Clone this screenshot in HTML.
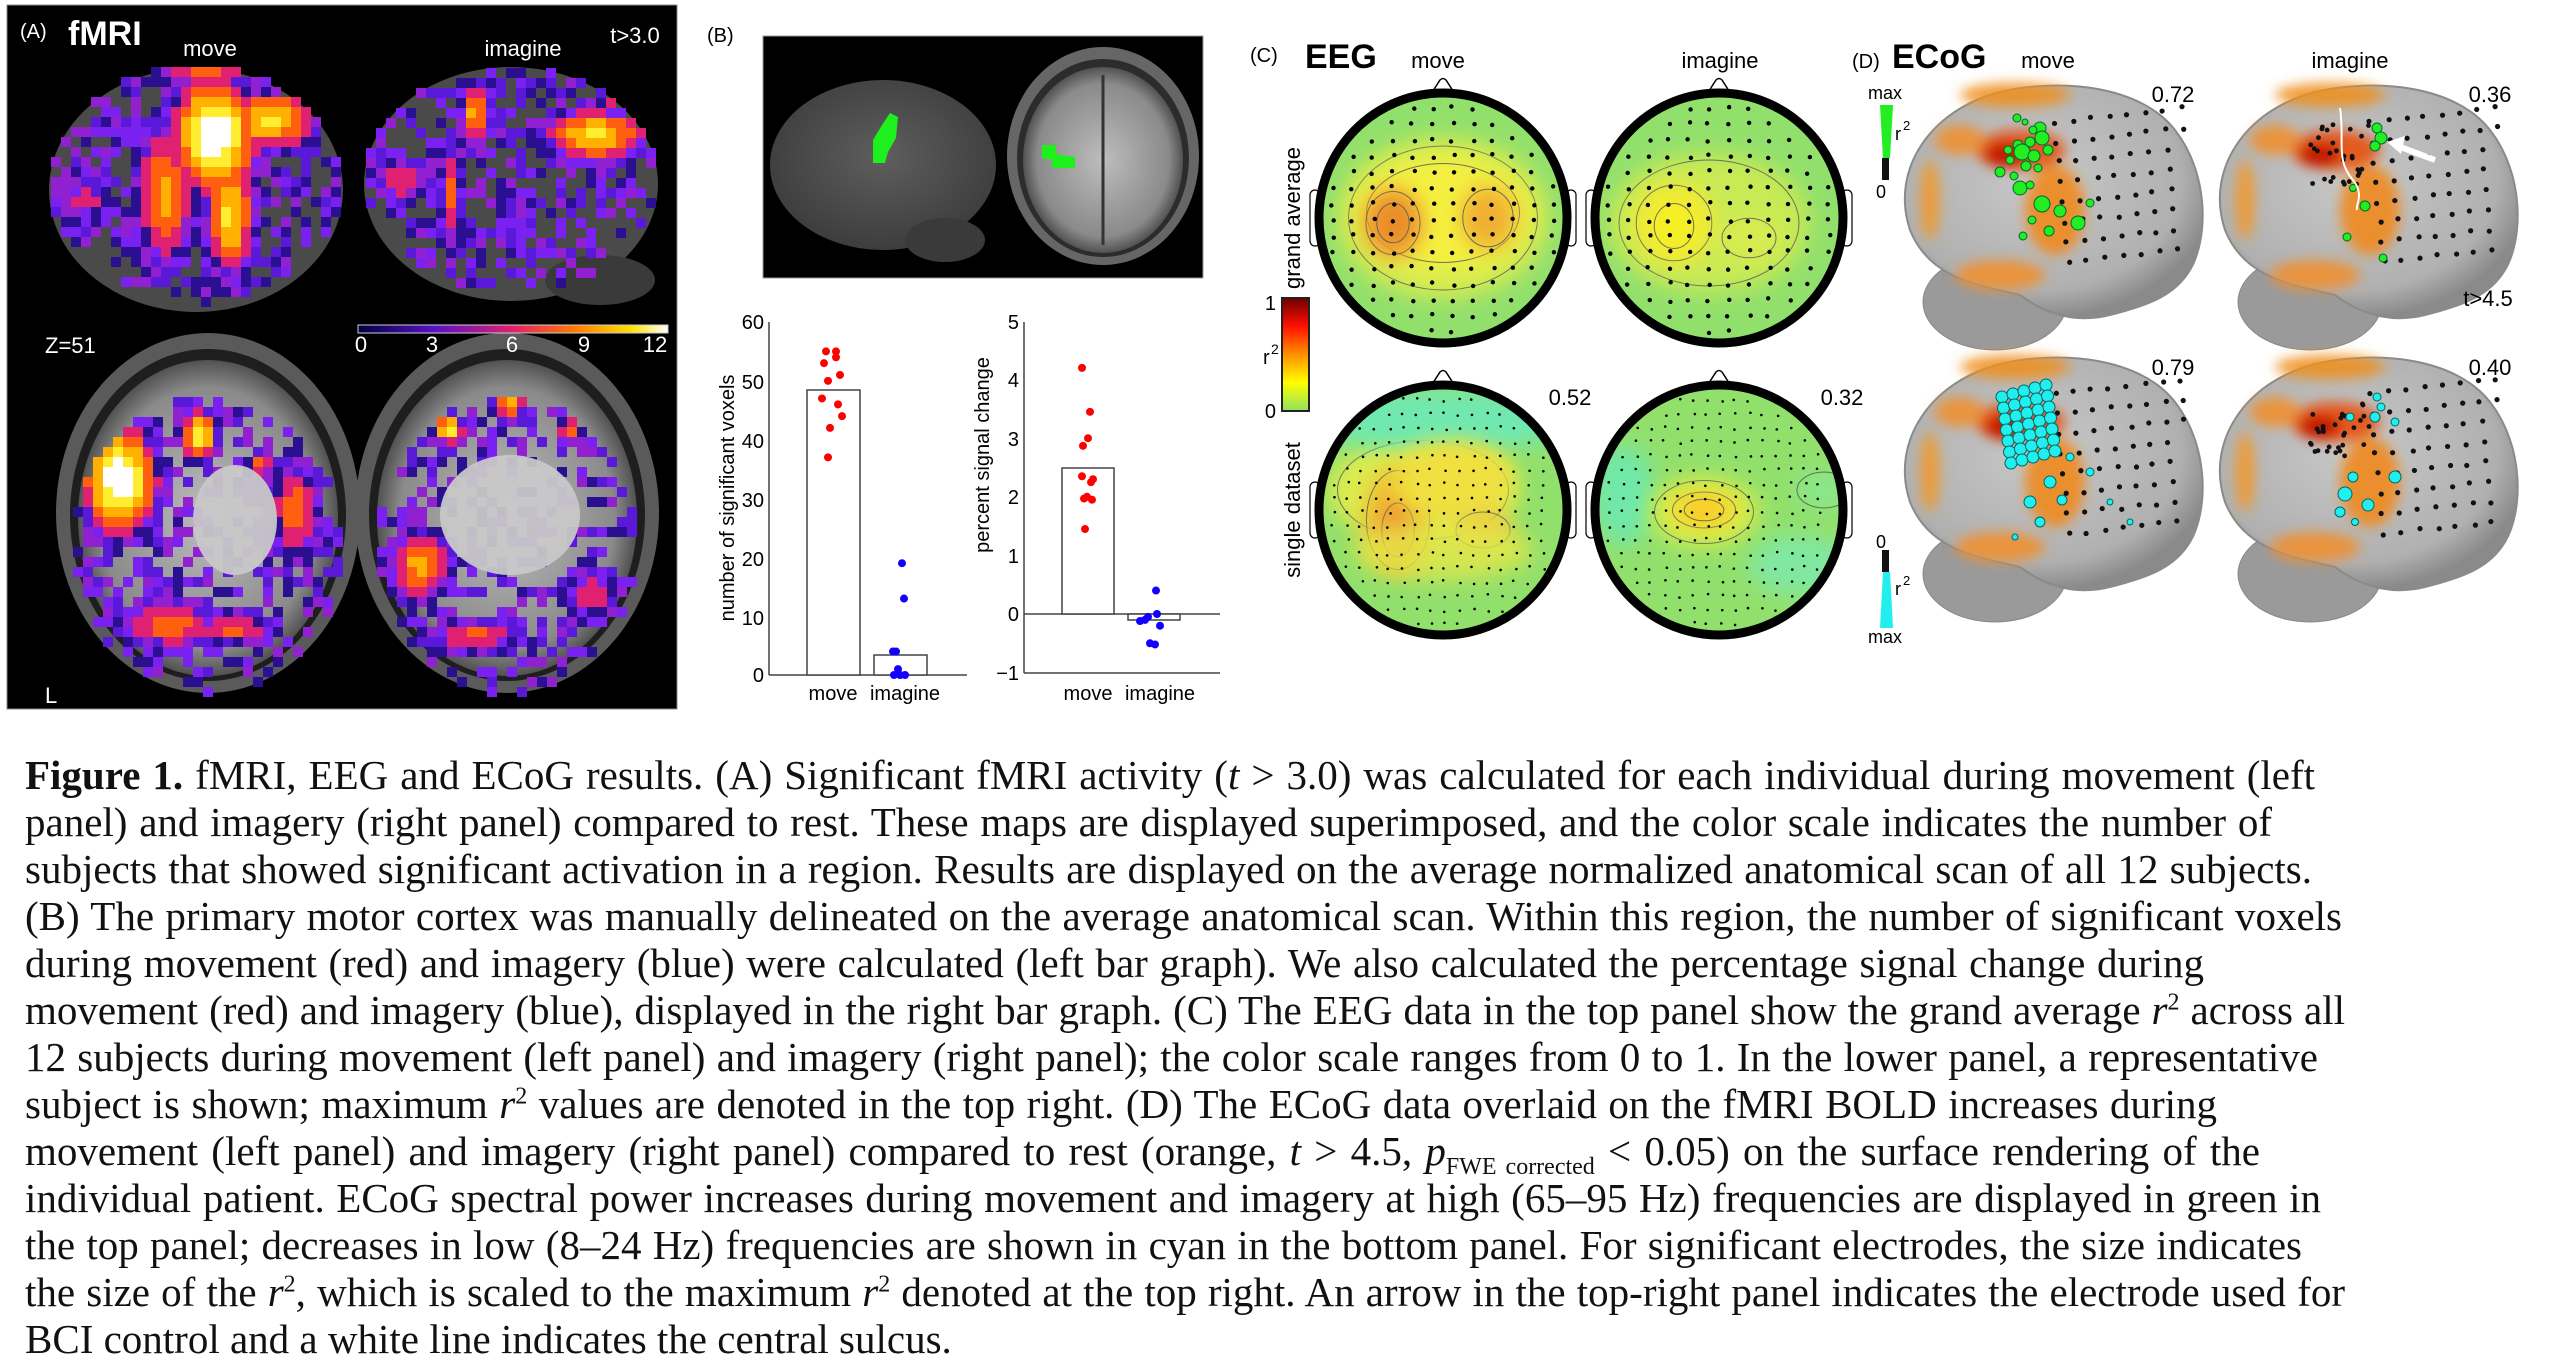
<!DOCTYPE html>
<html><head><meta charset="utf-8">
<style>
html,body{margin:0;padding:0;background:#fff;}
body{width:2562px;height:1370px;position:relative;overflow:hidden;}
svg{position:absolute;left:0;top:0;}
.cap{position:absolute;left:25px;font-family:"Liberation Serif",serif;font-size:41px;line-height:47px;color:#111;}
.cap div{white-space:nowrap;text-align:justify;text-align-last:justify;height:47px;overflow:visible;}
.cap div.last{text-align-last:left;}
</style></head><body>
<svg id="s" width="2562" height="720" viewBox="0 0 2562 720" font-family="Liberation Sans, sans-serif">
<defs>
<filter id="b6" x="-50%" y="-50%" width="200%" height="200%"><feGaussianBlur stdDeviation="6"/></filter>
<filter id="b10" x="-50%" y="-50%" width="200%" height="200%"><feGaussianBlur stdDeviation="10"/></filter>
<linearGradient id="cbA" x1="0" x2="1"><stop offset="0" stop-color="#000040"/><stop offset=".25" stop-color="#5a10c8"/><stop offset=".5" stop-color="#e0206a"/><stop offset=".7" stop-color="#ff7a00"/><stop offset=".88" stop-color="#ffe000"/><stop offset="1" stop-color="#fff"/></linearGradient>
<linearGradient id="cbC" x1="0" y1="1" x2="0" y2="0"><stop offset="0" stop-color="#90e060"/><stop offset=".25" stop-color="#ffff00"/><stop offset=".5" stop-color="#ff9000"/><stop offset=".75" stop-color="#ff1000"/><stop offset="1" stop-color="#700000"/></linearGradient>
<radialGradient id="gb" cx=".45" cy=".4" r=".6"><stop offset="0" stop-color="#c8c8c8"/><stop offset=".8" stop-color="#b0b0b0"/><stop offset="1" stop-color="#8a8a8a"/></radialGradient>
<radialGradient id="mri" cx=".5" cy=".5" r=".55"><stop offset="0" stop-color="#bdbdbd"/><stop offset=".75" stop-color="#8a8a8a"/><stop offset=".9" stop-color="#555"/><stop offset="1" stop-color="#222"/></radialGradient>
<radialGradient id="lat" cx=".5" cy=".45" r=".6"><stop offset="0" stop-color="#5e5e5e"/><stop offset="1" stop-color="#3a3a3a"/></radialGradient>
<clipPath id="h1"><ellipse cx="1443" cy="218" rx="124" ry="125"/></clipPath>
<clipPath id="h2"><ellipse cx="1719" cy="218" rx="124" ry="125"/></clipPath>
<clipPath id="h3"><ellipse cx="1443" cy="510" rx="124" ry="125"/></clipPath>
<clipPath id="h4"><ellipse cx="1719" cy="510" rx="124" ry="125"/></clipPath>
</defs>

<!-- Panel A -->
<rect x="7" y="5" width="670" height="704" fill="#000" stroke="#888" stroke-width="1"/>
<g id="A"></g>
<text x="20" y="38" fill="#fff" font-size="20">(A)</text>
<text x="68" y="45" fill="#fff" font-size="34" font-weight="bold">fMRI</text>
<text x="210" y="56" fill="#fff" font-size="22" text-anchor="middle">move</text>
<text x="523" y="56" fill="#fff" font-size="22" text-anchor="middle">imagine</text>
<text x="635" y="43" fill="#fff" font-size="22" text-anchor="middle">t&gt;3.0</text>
<text x="45" y="353" fill="#fff" font-size="22">Z=51</text>
<text x="45" y="703" fill="#fff" font-size="22">L</text>
<rect x="358" y="325" width="310" height="8" fill="url(#cbA)" stroke="#ccc" stroke-width="1"/>
<g fill="#fff" font-size="22" text-anchor="middle"><text x="361" y="352">0</text><text x="432" y="352">3</text><text x="512" y="352">6</text><text x="584" y="352">9</text><text x="655" y="352">12</text></g>

<!-- Panel B -->
<text x="707" y="42" font-size="20">(B)</text>
<rect x="763" y="36" width="440" height="242" fill="#000" stroke="#999"/>
<ellipse cx="883" cy="165" rx="113" ry="85" fill="url(#lat)"/>
<ellipse cx="945" cy="240" rx="40" ry="22" fill="#3a3a3a"/>
<path d="M890 113 L898 117 L896 138 L888 152 L885 163 L873 163 L873 140 L882 125 Z" fill="#1ef01e"/>
<ellipse cx="1103" cy="156" rx="96" ry="109" fill="#666"/>
<ellipse cx="1103" cy="158" rx="86" ry="99" fill="#2c2c2c"/>
<ellipse cx="1103" cy="160" rx="80" ry="93" fill="url(#mri)"/>
<line x1="1103" y1="75" x2="1103" y2="245" stroke="#333" stroke-width="3"/>
<path d="M1042 145 L1056 145 L1056 154 L1075 157 L1075 168 L1052 168 L1052 160 L1042 158 Z" fill="#1ef01e"/>

<g stroke="#444" stroke-width="1.5" fill="none">
<line x1="769" y1="322" x2="769" y2="675"/><line x1="769" y1="675" x2="967" y2="675"/>
<rect x="807" y="390" width="53" height="285" fill="#fff"/>
<rect x="874" y="655" width="53" height="20" fill="#fff"/>
<line x1="1024" y1="322" x2="1024" y2="673"/><line x1="1024" y1="673" x2="1220" y2="673"/>
<line x1="1024" y1="614" x2="1220" y2="614"/>
<rect x="1062" y="468" width="52" height="146" fill="#fff"/>
<rect x="1128" y="614" width="52" height="6" fill="#fff"/>
</g>
<g font-size="20" text-anchor="end">
<text x="764" y="329">60</text><text x="764" y="389">50</text><text x="764" y="448">40</text><text x="764" y="507">30</text><text x="764" y="566">20</text><text x="764" y="625">10</text><text x="764" y="682">0</text>
<text x="1019" y="329">5</text><text x="1019" y="387">4</text><text x="1019" y="446">3</text><text x="1019" y="504">2</text><text x="1019" y="563">1</text><text x="1019" y="621">0</text><text x="1019" y="680">−1</text>
</g>
<text transform="translate(734,498) rotate(-90)" font-size="20" text-anchor="middle">number of significant voxels</text>
<text transform="translate(989,455) rotate(-90)" font-size="20" text-anchor="middle">percent signal change</text>
<g font-size="20" text-anchor="middle"><text x="833" y="700">move</text><text x="905" y="700">imagine</text><text x="1088" y="700">move</text><text x="1160" y="700">imagine</text></g>
<g id="pts"></g>

<!-- Panel C -->
<text x="1250" y="62" font-size="20">(C)</text>
<text x="1305" y="68" font-size="34" font-weight="bold">EEG</text>
<text x="1438" y="68" font-size="22" text-anchor="middle">move</text>
<text x="1720" y="68" font-size="22" text-anchor="middle">imagine</text>
<text transform="translate(1300,218) rotate(-90)" font-size="22" text-anchor="middle">grand average</text>
<text transform="translate(1300,510) rotate(-90)" font-size="22" text-anchor="middle">single dataset</text>
<rect x="1282" y="298" width="27" height="113" fill="url(#cbC)" stroke="#222" stroke-width="2"/>
<text x="1276" y="310" font-size="20" text-anchor="end">1</text>
<text x="1276" y="418" font-size="20" text-anchor="end">0</text>
<text x="1263" y="364" font-size="20">r</text><text x="1271" y="354" font-size="14">2</text>
<g id="C"></g>
<text x="1570" y="405" font-size="22" text-anchor="middle">0.52</text>
<text x="1842" y="405" font-size="22" text-anchor="middle">0.32</text>

<!-- Panel D -->
<text x="1852" y="68" font-size="20">(D)</text>
<text x="1892" y="68" font-size="34" font-weight="bold">ECoG</text>
<text x="2048" y="68" font-size="22" text-anchor="middle">move</text>
<text x="2350" y="68" font-size="22" text-anchor="middle">imagine</text>
<g id="D"></g>
<g font-size="22" text-anchor="middle"><text x="2173" y="102">0.72</text><text x="2490" y="102">0.36</text><text x="2173" y="375">0.79</text><text x="2490" y="375">0.40</text><text x="2488" y="306">t&gt;4.5</text></g>
<text x="1885" y="99" font-size="18" text-anchor="middle">max</text>
<path d="M1880 105 L1893 105 L1890 158 L1883 158 Z" fill="#22ee22"/>
<rect x="1882" y="158" width="7" height="22" fill="#111"/>
<text x="1881" y="198" font-size="18" text-anchor="middle">0</text>
<text x="1895" y="140" font-size="18">r</text><text x="1903" y="130" font-size="13">2</text>
<text x="1881" y="548" font-size="18" text-anchor="middle">0</text>
<rect x="1882" y="550" width="7" height="22" fill="#111"/>
<path d="M1883 572 L1890 572 L1893 628 L1880 628 Z" fill="#22eeee"/>
<text x="1885" y="643" font-size="18" text-anchor="middle">max</text>
<text x="1895" y="595" font-size="18">r</text><text x="1903" y="585" font-size="13">2</text>
</svg>

<div class="cap" style="top:752px">
<div style="width:2290px"><b>Figure 1.</b> fMRI, EEG and ECoG results. (A) Significant fMRI activity (<i>t</i> &gt; 3.0) was calculated for each individual during movement (left</div>
<div style="width:2247px">panel) and imagery (right panel) compared to rest. These maps are displayed superimposed, and the color scale indicates the number of</div>
<div style="width:2287px">subjects that showed significant activation in a region. Results are displayed on the average normalized anatomical scan of all 12 subjects.</div>
<div style="width:2317px">(B) The primary motor cortex was manually delineated on the average anatomical scan. Within this region, the number of significant voxels</div>
<div style="width:2179px">during movement (red) and imagery (blue) were calculated (left bar graph). We also calculated the percentage signal change during</div>
<div style="width:2320px">movement (red) and imagery (blue), displayed in the right bar graph. (C) The EEG data in the top panel show the grand average <i>r</i><sup style="font-size:24px;line-height:0">2</sup> across all</div>
<div style="width:2293px">12 subjects during movement (left panel) and imagery (right panel); the color scale ranges from 0 to 1. In the lower panel, a representative</div>
<div style="width:2192px">subject is shown; maximum <i>r</i><sup style="font-size:24px;line-height:0">2</sup> values are denoted in the top right. (D) The ECoG data overlaid on the fMRI BOLD increases during</div>
<div style="width:2235px">movement (left panel) and imagery (right panel) compared to rest (orange, <i>t</i> &gt; 4.5, <i>p</i><sub style="font-size:24px;line-height:0">FWE corrected</sub> &lt; 0.05) on the surface rendering of the</div>
<div style="width:2296px">individual patient. ECoG spectral power increases during movement and imagery at high (65–95 Hz) frequencies are displayed in green in</div>
<div style="width:2277px">the top panel; decreases in low (8–24 Hz) frequencies are shown in cyan in the bottom panel. For significant electrodes, the size indicates</div>
<div style="width:2320px">the size of the <i>r</i><sup style="font-size:24px;line-height:0">2</sup>, which is scaled to the maximum <i>r</i><sup style="font-size:24px;line-height:0">2</sup> denoted at the top right. An arrow in the top-right panel indicates the electrode used for</div>
<div class="last">BCI control and a white line indicates the central sulcus.</div>
</div>

<script>
var NS="http://www.w3.org/2000/svg";
function el(p,t,a){var e=document.createElementNS(NS,t);for(var k in a)e.setAttribute(k,a[k]);p.appendChild(e);return e;}
var seed=7;function rnd(){seed=(seed*9301+49297)%233280;return seed/233280;}
var A=document.getElementById('A');
function pix(g,cx,cy,rx,ry,blobs,dens){
  var cols=['#2a1090','#5a18d8','#7a20f0','#9020d0'];
  for(var x=cx-rx;x<cx+rx;x+=10)for(var y=cy-ry;y<cy+ry;y+=10){
    var dx=(x+5-cx)/rx,dy=(y+5-cy)/ry;if(dx*dx+dy*dy>1)continue;
    var v=0;
    for(var i=0;i<blobs.length;i++){var b=blobs[i];var ex=(x-b[0])/b[2],ey=(y-b[1])/b[3];var w=b[4]*Math.exp(-(ex*ex+ey*ey));if(w>v)v=w;}
    var r=rnd();var c=null;
    if(v>0.85)c='#ffffff';else if(v>0.7)c='#ffee30';else if(v>0.55)c='#ffb000';else if(v>0.42)c='#ff6010';else if(v>0.3)c='#e02070';else if(v>0.12||r<dens)c=cols[Math.floor(r*97)%4];
    if(c)el(g,'rect',{x:x,y:y,width:10,height:10,fill:c});
  }
}
el(A,'ellipse',{cx:196,cy:190,rx:147,ry:122,fill:'#4a4a4a'});
el(A,'ellipse',{cx:511,cy:184,rx:147,ry:117,fill:'#4a4a4a'});
el(A,'ellipse',{cx:600,cy:280,rx:55,ry:25,fill:'#3a3a3a'});
var gA=el(A,'g',{});
pix(gA,196,185,145,118,[[210,130,40,55,1],[160,190,28,70,0.6],[225,210,22,60,0.75],[265,115,45,30,0.72],[80,195,30,30,0.35],[200,60,60,20,0.5]],0.55);
pix(gA,511,180,145,112,[[590,130,50,25,0.72],[470,110,14,30,0.62],[445,190,14,60,0.45],[395,175,25,25,0.42],[510,215,20,40,0.3],[620,95,30,15,0.45]],0.5);
function axial(cx){
 el(A,'ellipse',{cx:cx,cy:513,rx:152,ry:180,fill:'#5a5a5a'});
 el(A,'ellipse',{cx:cx,cy:515,rx:138,ry:166,fill:'#1e1e1e'});
 el(A,'ellipse',{cx:cx,cy:518,rx:130,ry:158,fill:'url(#mri)'});
}
axial(208);axial(507);
var gB=el(A,'g',{});
pix(gB,208,545,135,148,[[115,475,35,50,1],[195,430,18,25,0.8],[165,620,50,25,0.5],[290,505,25,50,0.5],[230,625,45,18,0.45],[255,460,15,15,0.45]],0.45);
pix(gB,507,545,130,148,[[415,560,30,35,0.6],[445,425,15,15,0.75],[505,395,15,25,0.6],[565,425,15,15,0.45],[470,630,45,20,0.45],[585,590,30,30,0.38]],0.45);
el(A,'ellipse',{cx:235,cy:520,rx:42,ry:55,fill:'#c8c8c8',opacity:0.95});
el(A,'ellipse',{cx:510,cy:515,rx:70,ry:60,fill:'#c8c8c8',opacity:0.95});

var P=document.getElementById('pts');
function y1(v){return 675-v*(353/60);} function y2(v){return 614-v*58.6;}
[[826,55],[836,55],[836,54],[824,53],[840,51],[828,50],[822,47],[838,46],[842,44],[830,42],[828,37]].forEach(function(p){el(P,'circle',{cx:p[0],cy:y1(p[1]),r:4,fill:'#f00'});});
[[902,19],[904,13],[893,4],[896,4],[898,1],[894,0],[900,0],[905,0]].forEach(function(p){el(P,'circle',{cx:p[0],cy:y1(p[1]),r:4,fill:'#10f'});});
[[1082,4.2],[1090,3.45],[1088,3.0],[1083,2.87],[1082,2.35],[1093,2.3],[1091,2.25],[1087,2.0],[1084,1.97],[1092,1.95],[1085,1.45]].forEach(function(p){el(P,'circle',{cx:p[0],cy:y2(p[1]),r:4,fill:'#f00'});});
[[1156,0.4],[1148,-0.05],[1157,0],[1145,-0.1],[1140,-0.12],[1160,-0.2],[1150,-0.5],[1155,-0.52]].forEach(function(p){el(P,'circle',{cx:p[0],cy:y2(p[1]),r:4,fill:'#10f'});});

var C=document.getElementById('C');
function head(cx,cy,clip,blobs,dotr){
 el(C,'path',{d:'M'+(cx-12)+' '+(cy-124)+' L'+(cx-3)+' '+(cy-138)+' Q'+cx+' '+(cy-141)+' '+(cx+3)+' '+(cy-138)+' L'+(cx+12)+' '+(cy-124),fill:'#fff',stroke:'#000','stroke-width':1.5});
 el(C,'rect',{x:cx-133,y:cy-28,width:10,height:56,rx:5,fill:'#fff',stroke:'#000','stroke-width':1.2});
 el(C,'rect',{x:cx+123,y:cy-28,width:10,height:56,rx:5,fill:'#fff',stroke:'#000','stroke-width':1.2});
 var g=el(C,'g',{'clip-path':'url(#'+clip+')'});
 el(g,'rect',{x:cx-130,y:cy-130,width:260,height:260,fill:'#92e06c'});
 blobs.forEach(function(b){el(g,'ellipse',{cx:cx+b[0],cy:cy+b[1],rx:b[2],ry:b[3],fill:b[4],filter:'url(#b10)',opacity:b[5]||1});
   if(b[6])el(g,'ellipse',{cx:cx+b[0],cy:cy+b[1],rx:b[2]*0.9,ry:b[3]*0.9,fill:'none',stroke:'#555','stroke-width':1,opacity:.8});});
 for(var x=-110;x<=110;x+=dotr?14:20)for(var y=-110;y<=115;y+=dotr?14:16){var dx=x/115,dy=y/118;if(dx*dx+dy*dy>1)continue;
   el(g,'circle',{cx:cx+x+(rnd()-.5)*4,cy:cy+y+(rnd()-.5)*4,r:dotr?1.3:2.2,fill:'#000'});}
 el(C,'ellipse',{cx:cx,cy:cy,rx:124,ry:125,fill:'none',stroke:'#000','stroke-width':9});
}
head(1443,218,'h1',[[0,0,105,80,'#d8ec50',1,1],[0,-5,85,55,'#f4f040',1,1],[-50,5,30,35,'#f0a030',1,1],[-50,5,18,22,'#e88a28',1,1],[45,0,28,32,'#f0b030',1,1]],false);
head(1719,218,'h2',[[-10,5,100,70,'#c8ea55',1,1],[-45,5,42,42,'#f0ea38',1,1],[-45,8,22,25,'#f6f020',1,1],[30,20,30,22,'#d8ec50',1,1]],false);
head(1443,510,'h3',[[-20,-20,95,55,'#dcec50',1,1],[0,-90,140,30,'#6fe8b0',1],[-45,10,35,55,'#f0c030',1,1],[-45,20,18,30,'#f09030',1,1],[10,-30,60,40,'#f0e040',1],[40,20,30,20,'#f0c840',1,1],[0,40,90,30,'#e4e848',.8]],true);
head(1719,510,'h4',[[-95,-15,30,50,'#70e8a8',1],[-15,2,55,35,'#d0ec50',1,1],[-15,0,35,20,'#f6e030',1,1],[-15,0,22,12,'#f8c828',1,1],[80,55,50,30,'#80e8a0',1],[105,-20,30,20,'#88e890',.8,1]],true);

var D=document.getElementById('D');
function brain(ox,oy,type,colr){
 var g=el(D,'g',{transform:'translate('+ox+','+oy+')'});
 el(g,'ellipse',{cx:105,cy:222,rx:72,ry:48,fill:'#9a9a9a',stroke:'#888'});
 el(g,'path',{d:'M20 150 C0 90 40 30 110 12 C170 -2 250 5 285 50 C320 95 318 160 300 190 C285 215 260 225 220 235 C180 245 150 230 130 215 C90 205 40 200 20 150 Z',fill:'url(#gb)',stroke:'#8a8a8a','stroke-width':2});
 var o=el(g,'g',{filter:'url(#b6)'});
 [[130,70,45,20,'#e85010'],[165,130,30,45,'#f08a20'],[125,15,55,12,'#f09020'],[110,195,45,15,'#f09030'],[40,120,10,40,'#f09a30'],[70,60,25,15,'#f09030'],[115,75,20,12,'#c01000']].forEach(function(b){el(o,'ellipse',{cx:b[0],cy:b[1],rx:b[2],ry:b[3],fill:b[4],opacity:.9});});
 for(var i=0;i<8;i++)for(var j=0;j<8;j++){var x=165+i*18+j*2+(rnd()-.5)*3,y=42+j*20-i*2+(rnd()-.5)*3;if(x>295)continue;el(g,'circle',{cx:x,cy:y,r:2.6,fill:'#111'});}
 if(type=='m'){
   [[127,38,4],[135,42,3],[150,48,6],[143,50,4],[152,58,7],[140,62,5],[128,65,5],[118,70,4],[132,72,8],[144,76,6],[158,70,5],[120,80,4],[136,86,5],[148,88,4],[110,92,5],[124,96,4],[130,108,7],[140,105,4],[152,124,8],[170,131,6],[188,143,7],[159,151,5],[142,140,4],[133,156,4],[200,123,4]].forEach(function(c){el(g,'circle',{cx:c[0],cy:c[1],r:c[2],fill:colr,stroke:'#063','stroke-width':1});});
 } else if(type=='i'){
   for(var k=0;k<30;k++)el(g,'circle',{cx:105+rnd()*60,cy:40+rnd()*65,r:2.4,fill:'#111'});
   [[172,48,5],[176,58,6],[170,66,5],[148,108,3.5],[160,126,5],[142,157,4],[178,178,4]].forEach(function(c){el(g,'circle',{cx:c[0],cy:c[1],r:c[2],fill:colr,stroke:'#063','stroke-width':1});});
   el(g,'path',{d:'M135 28 C140 60 130 80 148 100 C160 115 150 125 152 130',fill:'none',stroke:'#fff','stroke-width':2});
   el(g,'path',{d:'M230 80 L190 65',stroke:'#fff','stroke-width':6,fill:'none'});
   el(g,'path',{d:'M182 62 L200 56 L196 74 Z',fill:'#fff'});
 } else if(type=='mc'){
   for(var i2=0;i2<5;i2++)for(var j2=0;j2<7;j2++)el(g,'circle',{cx:112+i2*11+j2*1.5,cy:45+j2*11-i2*3,r:6,fill:colr,stroke:'#066','stroke-width':1});
   [[160,130,6],[172,148,5],[140,150,6],[150,170,5],[200,120,4],[180,105,4],[220,150,3],[240,170,3],[125,185,3]].forEach(function(c){el(g,'circle',{cx:c[0],cy:c[1],r:c[2],fill:colr,stroke:'#066','stroke-width':1});});
 } else {
   for(var k2=0;k2<30;k2++)el(g,'circle',{cx:105+rnd()*60,cy:40+rnd()*65,r:2.4,fill:'#111'});
   [[172,45,4],[176,55,4],[170,65,5],[145,65,4],[190,70,4],[148,125,5],[140,142,7],[163,153,6],[135,160,5],[150,170,3.5],[190,125,6]].forEach(function(c){el(g,'circle',{cx:c[0],cy:c[1],r:c[2],fill:colr,stroke:'#066','stroke-width':1});});
 }
}
brain(1890,80,'m','#22ee22');
brain(2205,80,'i','#22ee22');
brain(1890,352,'mc','#22eeee');
brain(2205,352,'ic','#22eeee');
</script>
</body></html>
